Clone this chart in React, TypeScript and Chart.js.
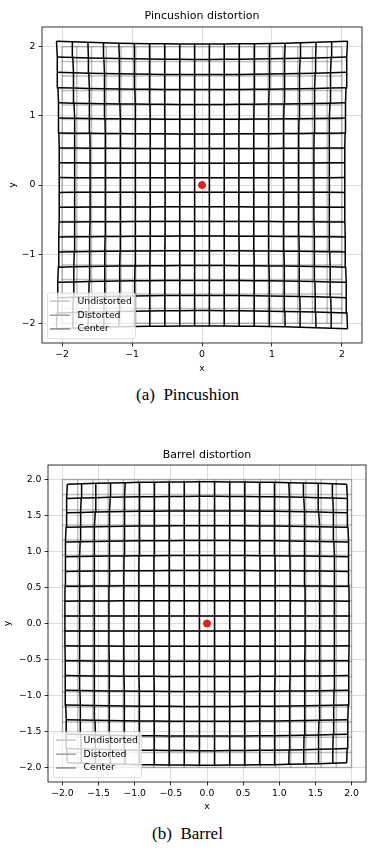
import React, { useEffect, useRef } from "react";
import { Chart, registerables } from "chart.js";

Chart.register(...registerables);

// ---- data ----
const gridValues = [
  -2, -1.789, -1.579, -1.368, -1.158, -0.947, -0.737, -0.526, -0.316, -0.105,
  0.105, 0.316, 0.526, 0.737, 0.947, 1.158, 1.368, 1.579, 1.789, 2,
];
const pincushionK = 0.005;
const barrelK = -0.0042;
const centerPoint = [{ x: 0, y: 0 }];
const pincushionTicks = [-2, -1, 0, 1, 2];
const barrelTicks = [-2, -1.5, -1, -0.5, 0, 0.5, 1, 1.5, 2];
const legendLabels = ["Undistorted", "Distorted", "Center"];
const legendColors = ["#c4c4c4", "#9e9e9e", "#888888"];

const FONT = '"DejaVu Sans", sans-serif';

function distort(x: number, y: number, k: number) {
  const s = 1 + k * (x * x + y * y);
  return { x: x * s, y: y * s };
}

function buildDatasets(k: number) {
  const ds: any[] = [];
  ds.push({
    label: "Center",
    data: centerPoint,
    showLine: false,
    pointRadius: 3.5,
    pointBackgroundColor: "#ff1a1a",
    pointBorderColor: "#d00000",
    pointBorderWidth: 0.8,
    order: 0,
  });
  const lineStyle = (color: string, w: number, order: number) => ({
    showLine: true,
    pointRadius: 0,
    borderColor: color,
    borderWidth: w,
    fill: false,
    tension: 0,
    order,
  });
  for (const g of gridValues) {
    ds.push({ label: "", data: gridValues.map((v) => distort(g, v, k)), ...lineStyle("#000000", 1.5, 1) });
    ds.push({ label: "", data: gridValues.map((v) => distort(v, g, k)), ...lineStyle("#000000", 1.5, 1) });
  }
  for (const g of gridValues) {
    ds.push({ label: "", data: gridValues.map((v) => ({ x: g, y: v })), ...lineStyle("rgba(0,0,0,0.25)", 1.5, 2) });
    ds.push({ label: "", data: gridValues.map((v) => ({ x: v, y: g })), ...lineStyle("rgba(0,0,0,0.25)", 1.5, 2) });
  }
  return ds;
}

const frameLegendPlugin = {
  id: "frameLegend",
  afterDatasetsDraw(chart: any) {
    const { ctx, chartArea: a } = chart;
    ctx.save();
    ctx.strokeStyle = "#000";
    ctx.lineWidth = 0.8;
    ctx.strokeRect(a.left, a.top, a.right - a.left, a.bottom - a.top);

    const bw = 88;
    const bh = 45.7;
    const bx = a.left + 5.5;
    const by = a.bottom - 4.4 - bh;
    ctx.beginPath();
    if (ctx.roundRect) ctx.roundRect(bx, by, bw, bh, 2);
    else ctx.rect(bx, by, bw, bh);
    ctx.fillStyle = "rgba(255,255,255,0.8)";
    ctx.fill();
    ctx.strokeStyle = "rgba(204,204,204,0.8)";
    ctx.lineWidth = 0.8;
    ctx.stroke();

    const rows = [8.2, 22.3, 36];
    ctx.font = `9.3px ${FONT}`;
    ctx.textBaseline = "middle";
    ctx.textAlign = "left";
    legendLabels.forEach((lab, i) => {
      const yy = by + rows[i];
      ctx.beginPath();
      ctx.moveTo(bx + 2.3, yy);
      ctx.lineTo(bx + 22.3, yy);
      ctx.strokeStyle = legendColors[i];
      ctx.lineWidth = 1.5;
      ctx.stroke();
      ctx.fillStyle = "#000";
      ctx.fillText(lab, bx + 30, yy);
    });
    ctx.restore();
  },
};

type PanelProps = {
  top: number;
  height: number;
  k: number;
  title: string;
  range: number;
  ticks: number[];
  fmt: (v: number) => string;
  yAxisWidth: number;
  xAxisHeight: number;
  padRight: number;
  titlePad: { top: number; bottom: number };
  xTitlePad: number;
  yTitlePad: number;
};

function Panel(p: PanelProps) {
  const ref = useRef<HTMLCanvasElement | null>(null);
  useEffect(() => {
    if (!ref.current) return;
    const tickFont = { family: FONT, size: 9.3 };
    const axis = (isX: boolean) => ({
      type: "linear" as const,
      min: -p.range,
      max: p.range,
      afterBuildTicks: (ax: any) => {
        ax.ticks = p.ticks.map((v) => ({ value: v }));
      },
      afterFit: (ax: any) => {
        if (isX) ax.height = p.xAxisHeight;
        else ax.width = p.yAxisWidth;
      },
      ticks: {
        callback: (v: any) => p.fmt(Number(v)),
        font: tickFont,
        color: "#000",
        padding: 3,
        autoSkip: false,
        maxRotation: 0,
        minRotation: 0,
      },
      grid: {
        color: "#d4d4d4",
        lineWidth: 0.8,
        drawTicks: true,
        tickLength: 3.5,
        tickColor: "#000",
        tickWidth: 0.8,
      },
      border: { display: false },
      title: {
        display: true,
        text: isX ? "x" : "y",
        color: "#000",
        font: tickFont,
        padding: isX ? { top: 0, bottom: p.xTitlePad } : { top: p.yTitlePad, bottom: 0 },
      },
    });
    const chart = new Chart(ref.current, {
      type: "scatter",
      data: { datasets: buildDatasets(p.k) },
      options: {
        animation: false,
        responsive: false,
        events: [],
        layout: { padding: { left: 0, right: p.padRight, top: 0, bottom: 0 } },
        plugins: {
          legend: { display: false },
          tooltip: { enabled: false },
          title: {
            display: true,
            text: p.title,
            fullSize: false,
            color: "#000",
            font: { family: FONT, size: 11, weight: "normal" as any, lineHeight: 1.2 },
            padding: p.titlePad,
          },
        },
        scales: { x: axis(true), y: axis(false) },
      },
      plugins: [frameLegendPlugin],
    });
    return () => chart.destroy();
  }, []);
  return (
    <canvas
      ref={ref}
      width={382}
      height={p.height}
      style={{ position: "absolute", left: 0, top: p.top, width: 382, height: p.height }}
    />
  );
}

const captionStyle: React.CSSProperties = {
  position: "absolute",
  left: 0,
  width: 375,
  textAlign: "center",
  fontFamily: '"Liberation Serif", "Times New Roman", serif',
  fontSize: 17,
  lineHeight: "20px",
  color: "#000",
  whiteSpace: "pre",
};

export default function App() {
  return (
    <div style={{ position: "absolute", left: 0, top: 0, width: 382, height: 853, background: "#fff", overflow: "hidden" }}>
      <Panel
        top={0}
        height={380}
        k={pincushionK}
        title="Pincushion distortion"
        range={2.287}
        ticks={pincushionTicks}
        fmt={(v) => String(v).replace("-", "\u2212")}
        yAxisWidth={42}
        xAxisHeight={37}
        padRight={20}
        titlePad={{ top: 9.4, bottom: 4.4 }}
        xTitlePad={6.1}
        yTitlePad={7.1}
      />
      <div style={{ ...captionStyle, top: 385 }}>{"(a)\u2002Pincushion"}</div>
      <Panel
        top={430}
        height={390}
        k={barrelK}
        title="Barrel distortion"
        range={2.2}
        ticks={barrelTicks}
        fmt={(v) => v.toFixed(1).replace("-", "\u2212")}
        yAxisWidth={48}
        xAxisHeight={38}
        padRight={16}
        titlePad={{ top: 18.4, bottom: 3.4 }}
        xTitlePad={7.7}
        yTitlePad={2.4}
      />
      <div style={{ ...captionStyle, top: 824 }}>{"(b)\u2002Barrel"}</div>
    </div>
  );
}
